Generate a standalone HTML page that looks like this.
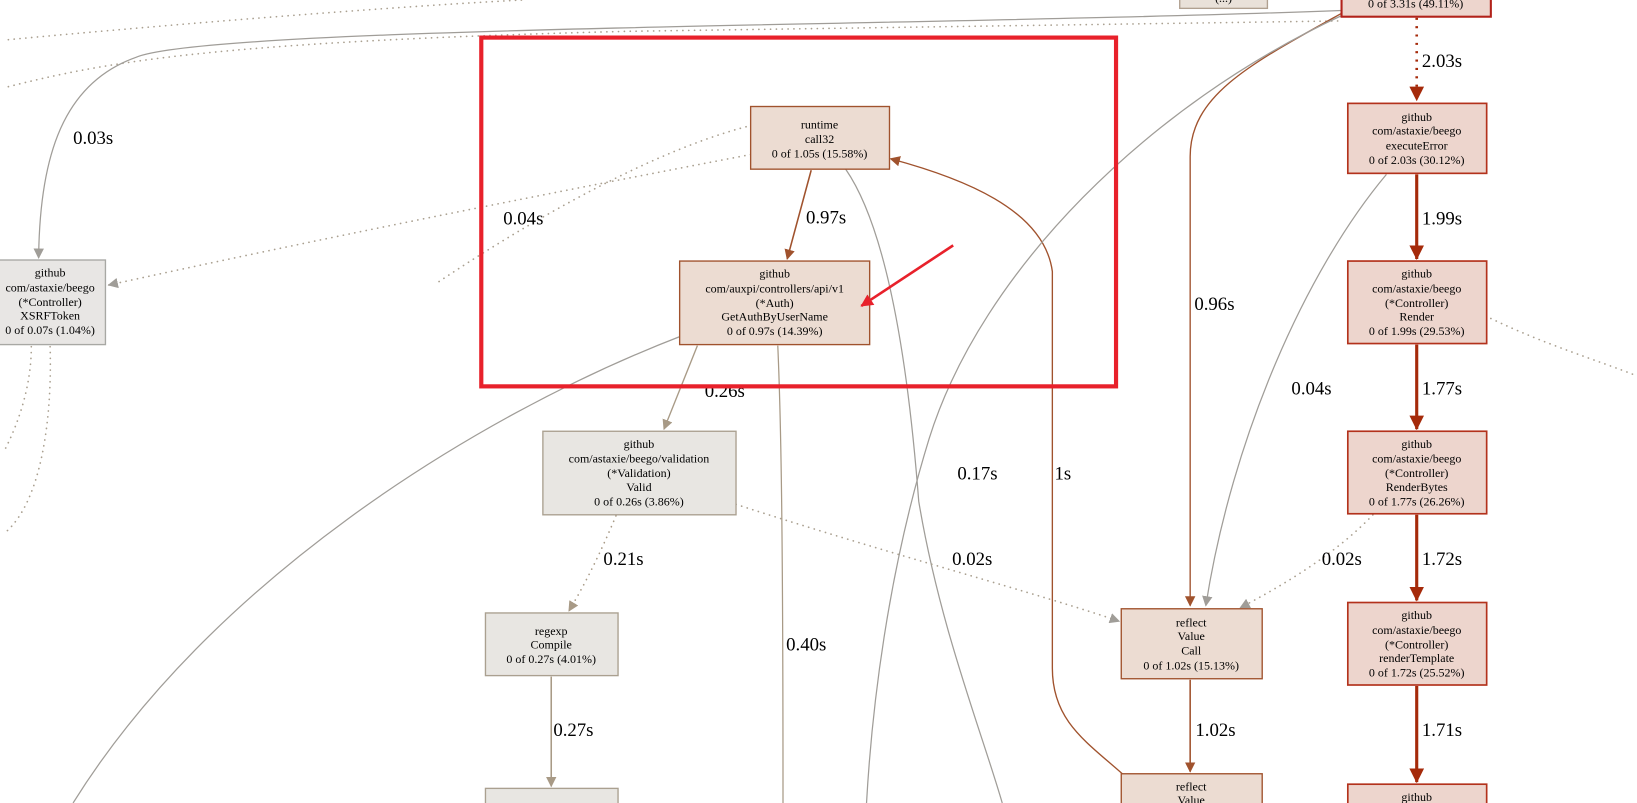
<!DOCTYPE html>
<html><head><meta charset="utf-8"><style>
html,body{margin:0;padding:0;background:#fff;width:1637px;height:803px;overflow:hidden}
svg{display:block}
.n{font-family:"Liberation Serif",serif;font-size:11.5px;fill:#000;text-anchor:middle}
.l{font-family:"Liberation Serif",serif;font-size:18px;fill:#000}
.d{stroke-dasharray:0.1,5.5;stroke-linecap:round;stroke-width:1.6}
</style></head><body>
<svg width="1637" height="803" viewBox="0 0 1568 769" preserveAspectRatio="none" xmlns="http://www.w3.org/2000/svg">
<defs>
<marker id="ag" markerWidth="10" markerHeight="10" refX="9" refY="5" orient="auto" markerUnits="userSpaceOnUse"><path d="M0,0 L10,5 L0,10z" fill="#a09d98"/></marker>
<marker id="ab" markerWidth="10" markerHeight="10" refX="9" refY="5" orient="auto" markerUnits="userSpaceOnUse"><path d="M0,0 L10,5 L0,10z" fill="#a0522d"/></marker>
<marker id="ar" markerWidth="14" markerHeight="14" refX="13" refY="7" orient="auto" markerUnits="userSpaceOnUse"><path d="M0,0 L14,7 L0,14z" fill="#a52a0a"/></marker>
<marker id="at" markerWidth="10" markerHeight="10" refX="9" refY="5" orient="auto" markerUnits="userSpaceOnUse"><path d="M0,0 L10,5 L0,10z" fill="#a89a86"/></marker>
<marker id="aR" markerWidth="12" markerHeight="12" refX="11" refY="6" orient="auto" markerUnits="userSpaceOnUse"><path d="M0,0 L12,6 L0,12z" fill="#e8212b"/></marker>
</defs>
<g fill="none">
<path class="d" d="M8,38 C200,20 400,5 500,0" stroke="#aaa090"/>
<path class="d" d="M8,83 C100,60 200,40 600,30 L1285,20" stroke="#aaa090"/>
<path d="M1285,10 C900,25 200,25 130,55 C60,80 38,150 37,247" stroke="#a09d98" stroke-width="1.2" marker-end="url(#ag)"/>
<path class="d" d="M719,148 C500,190 300,230 104,273" stroke="#aaa090" marker-end="url(#ag)"/>
<path class="d" d="M720,120 C600,150 450,250 420,270" stroke="#aaa090"/>
<path class="d" d="M30,332 C30,380 10,420 5,430" stroke="#aaa090"/>
<path class="d" d="M48,332 C50,400 40,480 5,510" stroke="#aaa090"/>
<path d="M777,163 L754,248" stroke="#a0522d" stroke-width="1.5" marker-end="url(#ab)"/>
<path d="M810,162 C850,220 870,350 880,480 C900,600 940,700 960,769" stroke="#a09d98" stroke-width="1.2"/>
<path d="M1075,741 C1040,710 1008,690 1008,640 L1008,260 C1000,200 920,170 853,152" stroke="#a0522d" stroke-width="1.3" marker-end="url(#ab)"/>
<path d="M1290,10 C1200,60 1140,90 1140,150 L1140,580" stroke="#a0522d" stroke-width="1.3" marker-end="url(#ab)"/>
<path d="M1287,14 C1100,100 940,260 890,420 C850,550 835,680 830,769" stroke="#a09d98" stroke-width="1.2"/>
<path d="M668,331 L636,411" stroke="#a89a86" stroke-width="1.3" marker-end="url(#at)"/>
<path d="M745,331 C748,400 750,500 750,769" stroke="#a89a86" stroke-width="1.2"/>
<path d="M652,322 C450,400 200,560 70,769" stroke="#a09d98" stroke-width="1.2"/>
<path class="d" d="M590,494 C575,530 560,560 545,585" stroke="#a89a86" marker-end="url(#at)"/>
<path d="M528,648 L528,753" stroke="#a89a86" stroke-width="1.5" marker-end="url(#at)"/>
<path class="d" d="M705,483 C850,530 1000,570 1072,595" stroke="#aaa090" marker-end="url(#ag)"/>
<path d="M1328,167 C1250,260 1180,420 1155,580" stroke="#a09d98" stroke-width="1.2" marker-end="url(#ag)"/>
<path class="d" d="M1315,493 C1280,530 1230,560 1188,582" stroke="#aaa090" marker-end="url(#ag)"/>
<path class="d" d="M1428,305 C1480,330 1530,345 1568,360" stroke="#aaa090"/>
<path d="M1140,651 L1140,739" stroke="#a0522d" stroke-width="1.5" marker-end="url(#ab)"/>
<path d="M1357,17 L1357,96" stroke="#a52a0a" stroke-width="2.5" stroke-dasharray="2,6" marker-end="url(#ar)"/>
<path d="M1357,167 L1357,248" stroke="#a52a0a" stroke-width="3" marker-end="url(#ar)"/>
<path d="M1357,330 L1357,411" stroke="#a52a0a" stroke-width="3" marker-end="url(#ar)"/>
<path d="M1357,493 L1357,575" stroke="#a52a0a" stroke-width="3" marker-end="url(#ar)"/>
<path d="M1357,657 L1357,749" stroke="#a52a0a" stroke-width="3" marker-end="url(#ar)"/>
</g>
<g stroke-width="1.3">
<rect x="1130" y="-10" width="84" height="18" fill="#e9e1d9" stroke="#b0a090"/>
<rect x="1285" y="-10" width="143" height="26" fill="#edd5cd" stroke="#b2221a" stroke-width="2"/>
<rect x="1291" y="99" width="133" height="67" fill="#edd5cd" stroke="#b3321c" stroke-width="1.6"/>
<rect x="1291" y="250" width="133" height="79" fill="#edd5cd" stroke="#b3321c" stroke-width="1.6"/>
<rect x="1291" y="413" width="133" height="79" fill="#edd5cd" stroke="#b3321c" stroke-width="1.6"/>
<rect x="1291" y="577" width="133" height="79" fill="#edd5cd" stroke="#b3321c" stroke-width="1.6"/>
<rect x="1291" y="751" width="133" height="30" fill="#edd5cd" stroke="#b3321c" stroke-width="1.6"/>
<rect x="719" y="102" width="133" height="60" fill="#ecdcd2" stroke="#a0522d"/>
<rect x="651" y="250" width="182" height="80" fill="#ecdcd2" stroke="#a0522d"/>
<rect x="520" y="413" width="185" height="80" fill="#e8e6e2" stroke="#aaa090"/>
<rect x="465" y="587" width="127" height="60" fill="#e8e6e2" stroke="#aaa090"/>
<rect x="465" y="755" width="127" height="30" fill="#e8e6e2" stroke="#aaa090"/>
<rect x="1074" y="583" width="135" height="67" fill="#ecdcd2" stroke="#a0522d"/>
<rect x="1074" y="741" width="135" height="40" fill="#ecdcd2" stroke="#a0522d"/>
<rect x="-5" y="249" width="106" height="81" fill="#e8e6e4" stroke="#a8a8a4"/>
</g>
<g class="n">
<text x="1356" y="7">0 of 3.31s (49.11%)</text>
<text x="1172" y="2">(...)</text>
<text x="1357" y="116">github</text><text x="1357" y="129">com/astaxie/beego</text><text x="1357" y="143">executeError</text><text x="1357" y="157">0 of 2.03s (30.12%)</text>
<text x="1357" y="266">github</text><text x="1357" y="280">com/astaxie/beego</text><text x="1357" y="294">(*Controller)</text><text x="1357" y="307">Render</text><text x="1357" y="321">0 of 1.99s (29.53%)</text>
<text x="1357" y="429">github</text><text x="1357" y="443">com/astaxie/beego</text><text x="1357" y="457">(*Controller)</text><text x="1357" y="470">RenderBytes</text><text x="1357" y="484">0 of 1.77s (26.26%)</text>
<text x="1357" y="593">github</text><text x="1357" y="607">com/astaxie/beego</text><text x="1357" y="621">(*Controller)</text><text x="1357" y="634">renderTemplate</text><text x="1357" y="648">0 of 1.72s (25.52%)</text>
<text x="1357" y="767">github</text>
<text x="785" y="123">runtime</text><text x="785" y="137">call32</text><text x="785" y="151">0 of 1.05s (15.58%)</text>
<text x="742" y="266">github</text><text x="742" y="280">com/auxpi/controllers/api/v1</text><text x="742" y="294">(*Auth)</text><text x="742" y="307">GetAuthByUserName</text><text x="742" y="321">0 of 0.97s (14.39%)</text>
<text x="612" y="429">github</text><text x="612" y="443">com/astaxie/beego/validation</text><text x="612" y="457">(*Validation)</text><text x="612" y="470">Valid</text><text x="612" y="484">0 of 0.26s (3.86%)</text>
<text x="528" y="608">regexp</text><text x="528" y="621">Compile</text><text x="528" y="635">0 of 0.27s (4.01%)</text>
<text x="1141" y="600">reflect</text><text x="1141" y="613">Value</text><text x="1141" y="627">Call</text><text x="1141" y="641">0 of 1.02s (15.13%)</text>
<text x="1141" y="757">reflect</text><text x="1141" y="770">Value</text>
<text x="48" y="265">github</text><text x="48" y="279">com/astaxie/beego</text><text x="48" y="293">(*Controller)</text><text x="48" y="306">XSRFToken</text><text x="48" y="320">0 of 0.07s (1.04%)</text>
</g>
<g class="l">
<text x="70" y="138">0.03s</text>
<text x="482" y="215">0.04s</text>
<text x="772" y="214">0.97s</text>
<text x="675" y="380">0.26s</text>
<text x="578" y="541">0.21s</text>
<text x="530" y="705">0.27s</text>
<text x="753" y="623">0.40s</text>
<text x="917" y="459">0.17s</text>
<text x="1010" y="459">1s</text>
<text x="1144" y="297">0.96s</text>
<text x="1237" y="378">0.04s</text>
<text x="912" y="541">0.02s</text>
<text x="1266" y="541">0.02s</text>
<text x="1145" y="705">1.02s</text>
<text x="1362" y="64">2.03s</text>
<text x="1362" y="215">1.99s</text>
<text x="1362" y="378">1.77s</text>
<text x="1362" y="541">1.72s</text>
<text x="1362" y="705">1.71s</text>
</g>
<rect x="461" y="36" width="608" height="334" fill="none" stroke="#e8212b" stroke-width="4"/>
<path d="M913,235 L825,293" stroke="#e8212b" stroke-width="2.5" fill="none" marker-end="url(#aR)"/>
</svg>
</body></html>
